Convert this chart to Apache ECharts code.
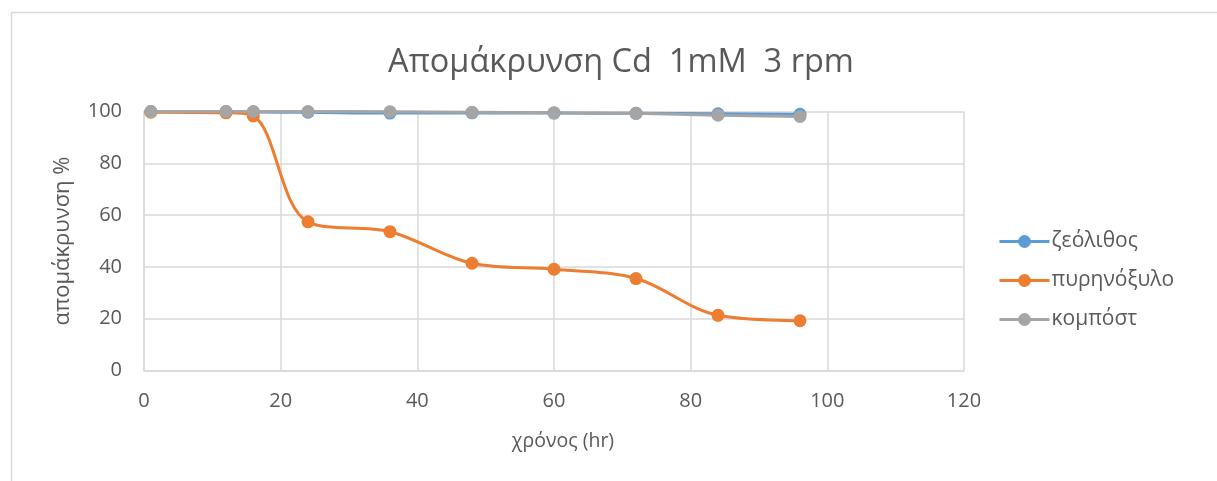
<!DOCTYPE html>
<html>
<head>
<meta charset="utf-8">
<script src="https://cdn.jsdelivr.net/npm/echarts@6/dist/echarts.min.js"></script>
<style>
  html, body { margin: 0; padding: 0; background: #ffffff; }
  #chart { width: 1217px; height: 481px; }
</style>
</head>
<body>
<div id="chart"></div>
<script>
// Time in hours
const hours = [1, 12, 16, 24, 36, 48, 60, 72, 84, 96];
// Removal percentage per material
const zeolite = [100, 100, 99.8, 99.7, 99.4, 99.5, 99.4, 99.3, 99.1, 98.9];
const oliveKernel = [99.7, 99.5, 98.3, 57.4, 53.6, 41.4, 39.1, 35.5, 21.3, 19.2];
const compost = [100, 100, 100, 100, 99.9, 99.7, 99.5, 99.3, 98.6, 98.1];

const seriesNames = ['ζεόλιθος', 'πυρηνόξυλο', 'κομπόστ'];
const seriesColors = ['#5b9bd5', '#ed7d31', '#a5a5a5'];

const FONT = '"Open Sans", "Noto Sans", sans-serif';
const TXT = '#595959';
const GRID = '#d9d9d9';

function pairs(ys) { return hours.map((h, i) => [h, ys[i]]); }

function makeSeries(name, ys, color) {
  return {
    name: name,
    type: 'line',
    data: pairs(ys),
    smooth: 0.35,
    symbol: 'circle',
    symbolSize: 13,
    lineStyle: { width: 3, color: color },
    itemStyle: { color: color },
    emphasis: { disabled: true }
  };
}

const chart = echarts.init(document.getElementById('chart'), null, { renderer: 'canvas' });
chart.setOption({
  animation: false,
  backgroundColor: '#ffffff',
  graphic: [{
    type: 'rect',
    shape: { x: 11.5, y: 12.5, width: 1400, height: 700 },
    style: { fill: 'none', stroke: GRID, lineWidth: 1.5 },
    silent: true
  }],
  title: {
    text: 'Απομάκρυνση Cd  1mM  3 rpm',
    left: 616,
    textAlign: 'center',
    top: 41,
    textStyle: { fontFamily: FONT, fontSize: 32.5, fontWeight: 'normal', color: TXT }
  },
  legend: {
    orient: 'vertical',
    left: 993,
    top: 226,
    itemGap: 18,
    itemWidth: 50,
    itemHeight: 16,
    lineStyle: { width: 3 },
    data: seriesNames,
    textStyle: { fontFamily: FONT, fontSize: 21, color: TXT, padding: [0, 0, 0, -3] }
  },
  grid: { left: 144, right: 253, top: 111.5, bottom: 110.5, containLabel: false },
  xAxis: {
    type: 'value',
    min: 0, max: 120, interval: 20,
    name: 'χρόνος (hr)',
    nameLocation: 'middle',
    nameGap: 61,
    nameTextStyle: { fontFamily: FONT, fontSize: 19.5, color: TXT, padding: [0, 0, 0, 18] },
    axisLine: { show: true, lineStyle: { color: GRID, width: 1.5 } },
    axisTick: { show: false },
    axisLabel: { fontFamily: FONT, fontSize: 20, color: TXT, margin: 21 },
    splitLine: { show: true, lineStyle: { color: GRID, width: 1.5 } }
  },
  yAxis: {
    type: 'value',
    min: 0, max: 100, interval: 20,
    name: 'απομάκρυνση %',
    nameLocation: 'middle',
    nameGap: 70,
    nameTextStyle: { fontFamily: FONT, fontSize: 22, color: TXT },
    axisLine: { show: true, lineStyle: { color: GRID, width: 1.5 } },
    axisTick: { show: false },
    axisLabel: { fontFamily: FONT, fontSize: 20, color: TXT, margin: 22 },
    splitLine: { show: true, lineStyle: { color: GRID, width: 1.5 } }
  },
  series: [
    makeSeries(seriesNames[0], zeolite, seriesColors[0]),
    makeSeries(seriesNames[1], oliveKernel, seriesColors[1]),
    makeSeries(seriesNames[2], compost, seriesColors[2])
  ]
});
</script>
</body>
</html>
